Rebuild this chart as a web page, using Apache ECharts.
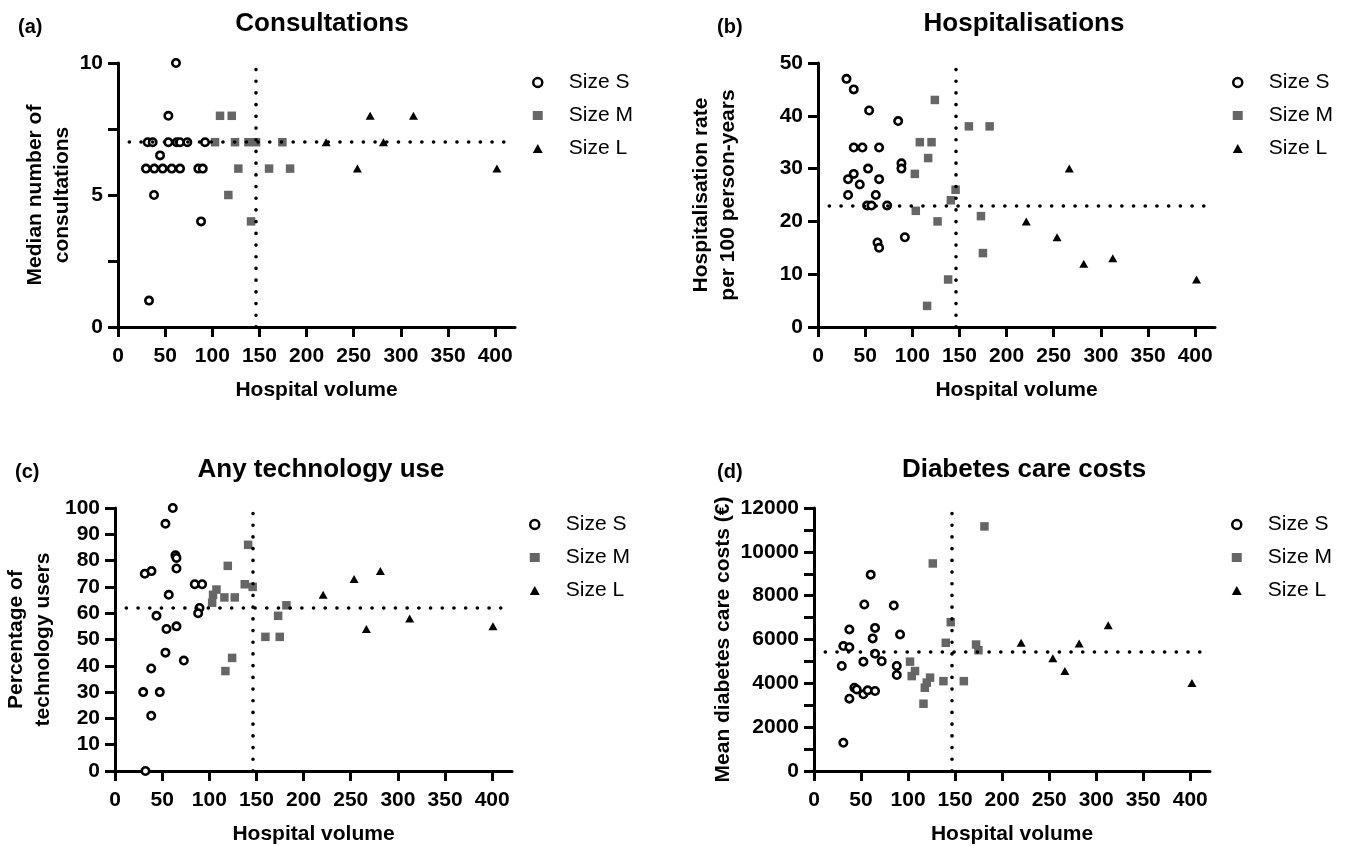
<!DOCTYPE html>
<html>
<head>
<meta charset="utf-8">
<script src="https://cdn.jsdelivr.net/npm/echarts@6/dist/echarts.min.js"></script>
<style>
html,body{margin:0;padding:0;background:#fff;}
#chart{width:1346px;height:846px;}
</style>
</head>
<body>
<div id="chart"></div>
<script>
// ---------- DATA ----------
var seriesNames = ['Size S', 'Size M', 'Size L'];
var panelTitles = ['Consultations', 'Hospitalisations', 'Any technology use', 'Diabetes care costs'];
var panelLetters = ['(a)', '(b)', '(c)', '(d)'];
var yAxisTitles = ['Median number of\nconsultations', 'Hospitalisation rate\nper 100 person-years', 'Percentage of\ntechnology users', 'Mean diabetes care costs (\u20ac)'];
var xAxisTitle = 'Hospital volume';

// [hospital volume, value]
var consultS = [[31.5,7],[36.8,7],[53.4,7],[62.2,7],[65.7,7],[73.5,7],[92.3,7],[29.7,6],[38.5,6],[47.4,6],[57,6],[65.8,6],[85.2,6],[89.9,6],[61.5,10],[53.4,8],[44.6,6.5],[38.2,5],[88.1,4],[32.9,1]];
var consultM = [[108.2,8],[120.6,8],[102.9,7],[124.1,7],[138.3,7],[146.4,7],[174.3,7],[127.6,6],[160.2,6],[182.5,6],[117,5],[141.1,4]];
var consultL = [[267.4,8],[313.3,8],[220.7,7],[281.5,7],[253.9,6],[401.8,6]];

var hospS = [[30.2,47],[37.9,45],[54.2,41],[85,39],[37.9,34],[47.1,34],[64.8,34],[88.5,31],[88.5,30],[53.1,30],[37.9,29],[31.9,28],[64.8,28],[44.3,27],[31.9,25],[61.3,25],[52.1,23],[56.7,23],[73.3,23],[92.1,17],[63.1,16],[64.8,15]];
var hospM = [[123.9,43],[108,35],[120.4,35],[116.8,32],[102.7,29],[145.9,26],[140.9,24],[103.7,22],[126.8,20],[138,9],[115.7,4],[160,38],[182,38],[172.8,21],[174.9,14]];
var hospL = [[266.5,30],[220.9,20],[253.5,17],[281.8,12],[312.6,13],[401.4,9]];

var techS = [[61.3,100],[53.5,94],[64.1,82],[65.2,81],[65.2,77],[31.6,75],[38.7,76],[84.6,71],[92.4,71],[57,67],[89.6,62],[88.2,60],[44,59],[54.6,54],[65.2,55],[53.5,45],[73,42],[38.4,39],[29.9,30],[47.5,30],[38.4,21],[32.3,0]];
var techM = [[141.2,86],[119.6,78],[137.6,71],[146,70],[107.6,69],[104,67],[116,66],[127,66],[103,64],[181.8,63],[173,59],[159.5,51],[174.7,51],[124.2,43],[117.1,38]];
var techL = [[220.7,67],[253.5,73],[281.4,76],[266.6,54],[312.5,58],[400.8,55]];

var costS = [[60.3,8960],[53.5,7600],[84.8,7550],[37.6,6460],[64.9,6530],[91.5,6230],[62.4,6050],[31.2,5700],[37.6,5650],[64.9,5350],[72,5010],[52.5,4990],[29.5,4790],[88,4790],[88,4380],[42.9,3800],[45.4,3720],[52.5,3500],[57.1,3680],[64.9,3650],[37.6,3300],[31.2,1290]];
var costM = [[181.2,11160],[126.3,9470],[145.4,6790],[140.1,5850],[172.3,5770],[174.8,5510],[102.1,4990],[107.4,4560],[103.9,4330],[123.4,4260],[119.9,4030],[137.6,4100],[159.3,4100],[117.8,3800],[116.4,3070]];
var costL = [[220.2,5850],[253.9,5140],[281.9,5820],[266.7,4560],[312.8,6650],[401.8,4010]];

// reference lines (mean hospital volume, overall value)
var refX = [146, 146, 146, 146];
var refY = [7, 23, 62, 5440];

// axes
var xMax = 421;
var xTicks = [0, 50, 100, 150, 200, 250, 300, 350, 400];
var yMaxes = [10, 50, 100, 12000];
var yTicksA = [0, 2.5, 5, 7.5, 10];
var yLabelsA = [0, 5, 10];
var yTicksB = [0, 10, 20, 30, 40, 50];
var yTicksC = [0, 10, 20, 30, 40, 50, 60, 70, 80, 90, 100];
var yTicksD = [0, 1000, 2000, 3000, 4000, 5000, 6000, 7000, 8000, 9000, 10000, 11000, 12000];
var yLabelsD = [0, 2000, 4000, 6000, 8000, 10000, 12000];

// ---------- LAYOUT / STYLE ----------
var FONT = 'Liberation Sans, Arial, sans-serif';
var panelData = [[consultS, consultM, consultL],[hospS, hospM, hospL],[techS, techM, techL],[costS, costM, costL]];
var yTickSets = [yTicksA, yTicksB, yTicksC, yTicksD];
var yLabelSets = [yLabelsA, yTicksB, yTicksC, yLabelsD];
var grids = [
  {left:118, top:63, width:397, height:264},
  {left:818, top:63, width:397, height:264},
  {left:115, top:508, width:397, height:264},
  {left:814, top:508, width:396, height:264}
];
var yNameGaps = [41, 76, 58, 70];
var titlePos = [[317,6],[1019,6],[316,452],[1019,452]];
var letterPos = [[13,12],[712,12],[10,457],[712,457]];
var legendPos = [[527,67],[1227,67],[524,509],[1226,509]];
var lineStartX = 12;

var symStyles = [
  {symbol:'circle', symbolSize:7.4, itemStyle:{color:'#fff', borderColor:'#000', borderWidth:2.6, opacity:1}},
  {symbol:'rect', symbolSize:8.5, itemStyle:{color:'#666666', borderWidth:0, opacity:1}},
  {symbol:'triangle', symbolSize:[9,8], itemStyle:{color:'#000', borderWidth:0, opacity:1}}
];
var legendIcons = [
  {name:'Size S', icon:'circle', itemStyle:{color:'#fff', borderColor:'#000', borderWidth:2.5}},
  {name:'Size M', icon:'rect', itemStyle:{color:'#666666', borderWidth:0}},
  {name:'Size L', icon:'triangle', itemStyle:{color:'#000', borderWidth:0}}
];

var option = {
  animation:false,
  backgroundColor:'#fff',
  textStyle:{fontFamily:FONT},
  title:[], grid:[], xAxis:[], yAxis:[], legend:[], series:[]
};

var dotLine = {color:'#000', width:3.6, type:[0.1, 11.6], cap:'round'};

for (var p = 0; p < 4; p++) {
  option.title.push({text:panelTitles[p], left:titlePos[p][0], top:titlePos[p][1], textAlign:'center',
    textStyle:{fontFamily:FONT, fontSize:26, fontWeight:'bold', color:'#000'}});
  option.title.push({text:panelLetters[p], left:letterPos[p][0], top:letterPos[p][1],
    textStyle:{fontFamily:FONT, fontSize:20, fontWeight:'bold', color:'#000'}});
  option.grid.push(grids[p]);
  option.xAxis.push({
    type:'value', gridIndex:p, min:0, max:xMax,
    name:xAxisTitle, nameLocation:'middle', nameGap:53,
    nameTextStyle:{fontFamily:FONT, fontSize:21, fontWeight:'bold', color:'#000'},
    axisLine:{show:true, onZero:false, lineStyle:{color:'#000', width:3}},
    axisTick:{show:true, length:10, lineStyle:{color:'#000', width:3}, customValues:xTicks},
    axisLabel:{fontFamily:FONT, fontSize:21, fontWeight:'bold', color:'#000', margin:19, customValues:xTicks,
      formatter:function(v){return String(v);}},
    splitLine:{show:false}
  });
  option.yAxis.push({
    type:'value', gridIndex:p, min:0, max:yMaxes[p],
    name:yAxisTitles[p], nameLocation:'middle', nameGap:yNameGaps[p], nameRotate:90,
    nameTextStyle:{fontFamily:FONT, fontSize:21, fontWeight:'bold', color:'#000', lineHeight:27},
    axisLine:{show:true, onZero:false, lineStyle:{color:'#000', width:3}},
    axisTick:{show:true, length:10, lineStyle:{color:'#000', width:3}, customValues:yTickSets[p]},
    axisLabel:{fontFamily:FONT, fontSize:21, fontWeight:'bold', color:'#000', margin:15, customValues:yLabelSets[p],
      formatter:function(v){return String(v);}},
    splitLine:{show:false}
  });
  option.legend.push({
    orient:'vertical', left:legendPos[p][0], top:legendPos[p][1],
    itemWidth:10, itemHeight:9, itemGap:12,
    textStyle:{fontFamily:FONT, fontSize:21, color:'#000', padding:[0,0,0,21]},
    data:legendIcons, selectedMode:false
  });
  for (var s = 0; s < 3; s++) {
    option.series.push({
      type:'scatter', name:seriesNames[s], xAxisIndex:p, yAxisIndex:p,
      data:panelData[p][s], symbol:symStyles[s].symbol, symbolSize:symStyles[s].symbolSize,
      itemStyle:symStyles[s].itemStyle, z:3, silent:true
    });
  }
  option.series.push({
    type:'line', name:'ref' + p, xAxisIndex:p, yAxisIndex:p, data:[], silent:true, z:5,
    markLine:{silent:true, symbol:'none', label:{show:false}, lineStyle:dotLine, animation:false,
      data:[
        [{coord:[lineStartX, refY[p]]}, {coord:[xMax, refY[p]]}],
        [{coord:[refX[p], 0]}, {coord:[refX[p], yMaxes[p]]}]
      ]}
  });
}

var chart = echarts.init(document.getElementById('chart'), null, {renderer:'canvas'});
chart.setOption(option);
</script>
</body>
</html>
